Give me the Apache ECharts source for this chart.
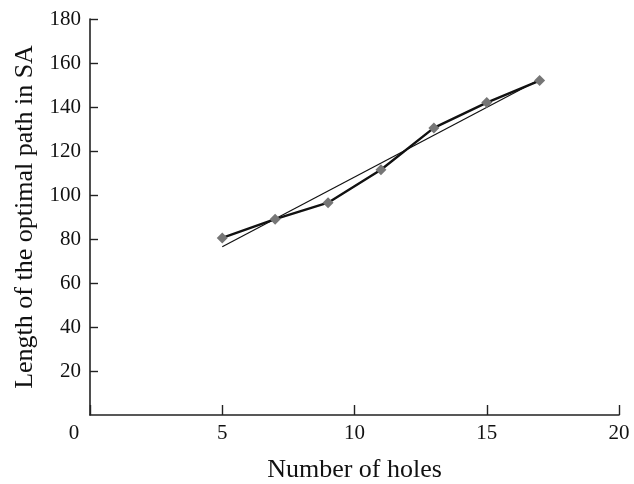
<!DOCTYPE html>
<html>
<head>
<meta charset="utf-8">
<script src="https://cdn.jsdelivr.net/npm/echarts@6/dist/echarts.min.js"></script>
<style>html,body{margin:0;padding:0;background:#fff;}#c{width:634px;height:484px;}</style>
</head>
<body>
<div id="c"></div>
<script>
const holes = [5, 7, 9, 11, 13, 15, 17];
const pathLength = [80.5, 89, 96.5, 111.5, 130.5, 142, 152];
const trendX = [5, 17];
const trendY = [76.5, 152.5];
const xTitle = 'Number of holes';
const yTitle = 'Length of the optimal path in SA';

const font = 'Liberation Serif, Times New Roman, serif';
const chart = echarts.init(document.getElementById('c'), null, {renderer: 'canvas'});
chart.setOption({
  backgroundColor: '#fff',
  animation: false,
  grid: {left: 90, right: 15, top: 19, bottom: 69, containLabel: false, outerBoundsMode: 'none'},
  xAxis: {
    type: 'value', min: 0, max: 20, interval: 5,
    name: xTitle, nameLocation: 'middle', nameGap: 42,
    nameTextStyle: {fontFamily: font, fontSize: 26, color: '#111'},
    axisLine: {show: true, lineStyle: {color: '#222', width: 1.6}},
    axisTick: {show: true, inside: true, length: 10, lineStyle: {color: '#222', width: 1.4}},
    axisLabel: {
      fontFamily: font, fontSize: 21, color: '#111', margin: 8,
      formatter: v => v === 0 ? '{z|0}' : String(v),
      rich: {z: {fontFamily: font, fontSize: 21, color: '#111', padding: [0, 32, 0, 0]}}
    },
    splitLine: {show: false}
  },
  yAxis: {
    type: 'value', min: 0, max: 180, interval: 20,
    name: yTitle, nameLocation: 'middle', nameGap: 52, nameRotate: 90,
    nameTextStyle: {fontFamily: font, fontSize: 26, color: '#111'},
    axisLine: {show: true, lineStyle: {color: '#222', width: 1.6}},
    axisTick: {show: true, inside: true, length: 8, lineStyle: {color: '#222', width: 1.4}},
    axisLabel: {fontFamily: font, fontSize: 21, color: '#111', margin: 9, showMinLabel: false,
      formatter: v => v === 0 ? '' : String(v)},
    splitLine: {show: false}
  },
  series: [
    {
      type: 'line',
      data: trendX.map((x, i) => [x, trendY[i]]),
      showSymbol: false, symbol: 'none',
      lineStyle: {color: '#111', width: 1.2},
      z: 2
    },
    {
      type: 'line',
      data: holes.map((x, i) => [x, pathLength[i]]),
      symbol: 'diamond', symbolSize: 11,
      itemStyle: {color: '#767676'},
      lineStyle: {color: '#111', width: 2.4},
      z: 3
    }
  ]
});
</script>
</body>
</html>
